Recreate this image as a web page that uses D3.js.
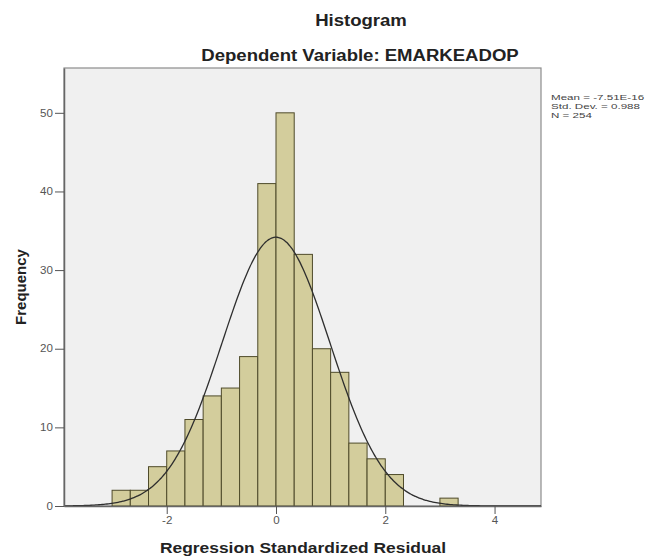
<!DOCTYPE html>
<html>
<head>
<meta charset="utf-8">
<script src="https://cdn.jsdelivr.net/npm/d3@7"></script>
<style>
  body { margin: 0; background: #fff; }
  svg { font-family: "Liberation Sans", Arial, sans-serif; }
  .tick text { fill: #555; font-size: 10px; }
</style>
</head>
<body>
<div id="vis"></div>
<script>
// histogram bins (lower edge, width 1/3) and counts
const binStarts = [-3, -8/3, -7/3, -2, -5/3, -4/3, -1, -2/3, -1/3, 0, 1/3, 2/3, 1, 4/3, 5/3, 2, 3];
const counts    = [2, 2, 5, 7, 11, 14, 15, 19, 41, 50, 32, 20, 17, 8, 6, 4, 1];
const binWidth = 1/3;
const xTicks = [-2, 0, 2, 4];
const yTicks = [0, 10, 20, 30, 40, 50];
const stats = { mean: -7.51e-16, sd: 0.988, n: 254 };
const legendLines = ["Mean = -7.51E-16", "Std. Dev. = 0.988", "N = 254"];

// picture is a bit wider than tall, text gets stretched horizontally
const ctx = { w: 650, h: 560, left: 64, top: 68, right: 541, bottom: 506, sx: 1.16 };

const svg = d3.select("#vis").append("svg")
    .attr("width", ctx.w).attr("height", ctx.h);

let xScale = d3.scaleLinear().domain([-3.88, 4.85]).range([ctx.left, ctx.right]);
let yScale = d3.scaleLinear().domain([0, 55.7]).range([ctx.bottom, ctx.top]);

// plot background
svg.append("rect")
    .attr("x", ctx.left).attr("y", ctx.top)
    .attr("width", ctx.right - ctx.left).attr("height", ctx.bottom - ctx.top)
    .style("fill", "#f0f0f0")
    .style("stroke", "#8c8c8c").style("stroke-width", 1.2);

// bars
svg.append("g").selectAll("rect")
    .data(binStarts.map((s, i) => ({ x0: s, x1: s + binWidth, c: counts[i] })))
    .enter().append("rect")
    .attr("x", d => xScale(d.x0))
    .attr("width", d => xScale(d.x1) - xScale(d.x0))
    .attr("y", d => yScale(d.c))
    .attr("height", d => yScale(0) - yScale(d.c))
    .style("fill", "#d3cd9c")
    .style("stroke", "#4f4b2a")
    .style("stroke-width", 1);

// normal curve
let xs = d3.range(0, 301).map(i => -3.88 + i * (4.85 + 3.88) / 300);
let curve = xs.map(x => [x, stats.n * binWidth / (stats.sd * Math.sqrt(2 * Math.PI)) *
    Math.exp(-0.5 * Math.pow((x - stats.mean) / stats.sd, 2))]);
svg.append("path")
    .datum(curve)
    .attr("d", d3.line().x(d => xScale(d[0])).y(d => yScale(d[1])).curve(d3.curveBasis))
    .style("fill", "none")
    .style("stroke", "#2e2e2e")
    .style("stroke-width", 1.3);

// axes
let xAxis = svg.append("g")
    .attr("transform", `translate(0,${ctx.bottom})`)
    .call(d3.axisBottom(xScale).tickValues(xTicks).tickFormat(d => String(d))
        .tickSize(8).tickPadding(3).tickSizeOuter(0));
let yAxis = svg.append("g")
    .attr("transform", `translate(${ctx.left},0)`)
    .call(d3.axisLeft(yScale).tickValues(yTicks).tickFormat(d => String(d))
        .tickSize(9).tickPadding(2).tickSizeOuter(0));
[xAxis, yAxis].forEach(a => {
    a.select(".domain").style("stroke", "#666").style("stroke-width", 1.5);
    a.selectAll(".tick line").style("stroke", "#555");
    a.selectAll(".tick text").each(function () {
        let t = d3.select(this);
        let x = +t.attr("x") || 0;
        t.attr("x", 0).attr("transform", `translate(${x},0) scale(${ctx.sx},1)`);
    });
});

function label(txt, x, y, size, rot) {
    return svg.append("text")
        .attr("transform", rot ? `translate(${x},${y}) rotate(-90)` : `translate(${x},${y}) scale(${ctx.sx},1)`)
        .style("text-anchor", "middle").style("font-weight", "bold").style("font-size", size + "px")
        .style("fill", "#222")
        .text(txt);
}

// titles
label("Histogram", 361, 26, 16);
label("Dependent Variable: EMARKEADOP", 360, 61, 16);
label("Regression Standardized Residual", 303, 553, 15);
label("Frequency", 26, 287, 15, true);

// legend
svg.append("g").selectAll("text")
    .data(legendLines)
    .enter().append("text")
    .attr("transform", (d, i) => `translate(551,${100 + i * 9.2}) scale(1.45,1)`)
    .style("font-size", "8px")
    .style("fill", "#444")
    .text(d => d);
</script>
</body>
</html>
